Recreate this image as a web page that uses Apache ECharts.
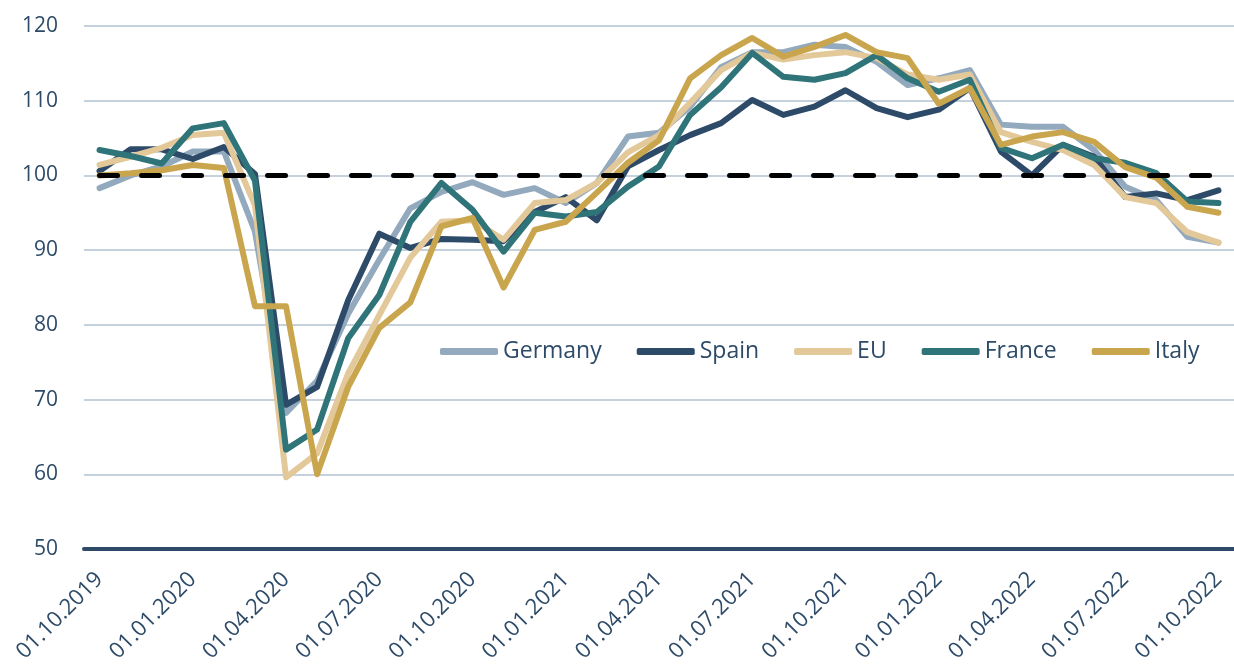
<!DOCTYPE html>
<html>
<head>
<meta charset="utf-8">
<title>Index</title>
<script src="https://cdn.jsdelivr.net/npm/echarts@6/dist/echarts.min.js"></script>
<style>
	html, body { margin: 0; padding: 0; background: #fff; }
	#echarts { width: 1234px; height: 671px; }
</style>
</head>
<body>
<div id="echarts"></div>
<script>
// months, one point each
var categories = [
	'01.10.2019', '01.11.2019', '01.12.2019',
	'01.01.2020', '01.02.2020', '01.03.2020', '01.04.2020', '01.05.2020', '01.06.2020',
	'01.07.2020', '01.08.2020', '01.09.2020', '01.10.2020', '01.11.2020', '01.12.2020',
	'01.01.2021', '01.02.2021', '01.03.2021', '01.04.2021', '01.05.2021', '01.06.2021',
	'01.07.2021', '01.08.2021', '01.09.2021', '01.10.2021', '01.11.2021', '01.12.2021',
	'01.01.2022', '01.02.2022', '01.03.2022', '01.04.2022', '01.05.2022', '01.06.2022',
	'01.07.2022', '01.08.2022', '01.09.2022', '01.10.2022'
]

var germany = [98.3, 100, 101.2, 103.2, 103.2, 92.5, 68.2, 72.5, 81.5, 88.7, 95.6, 97.8, 99.1, 97.4, 98.3, 96.3, 99, 105.2, 105.7, 109.2, 114.5, 116.5, 116.5, 117.5, 117.2, 115.2, 112.1, 113, 114.1, 106.8, 106.5, 106.5, 103.4, 98.5, 96.7, 91.8, 91]
var spain = [100.6, 103.5, 103.5, 102.2, 103.8, 100.2, 69.3, 71.7, 83.3, 92.2, 90.3, 91.5, 91.4, 91.2, 95.1, 97.1, 94, 101.2, 103.4, 105.4, 107, 110.1, 108.1, 109.2, 111.4, 109, 107.8, 108.8, 111.7, 103.2, 100, 104.1, 102.5, 97.1, 97.6, 96.7, 98]
var eu = [101.4, 102.5, 103.7, 105.4, 105.7, 96, 59.6, 62.8, 73.5, 81.3, 89, 93.8, 94, 91.4, 96.3, 96.7, 99, 103.1, 105.4, 109.7, 114.1, 116.4, 115.5, 116.1, 116.5, 115.7, 113.5, 112.8, 113.5, 105.8, 104.5, 103.4, 101.4, 97.1, 96.3, 92.4, 91]
var france = [103.4, 102.6, 101.6, 106.3, 107, 99.3, 63.3, 66, 78.2, 84, 93.8, 99, 95.4, 89.8, 95, 94.5, 95.1, 98.5, 101.2, 108.1, 111.8, 116.4, 113.2, 112.8, 113.7, 116.1, 113, 111.2, 112.8, 103.7, 102.3, 104.1, 102.3, 101.7, 100.3, 96.5, 96.3]
var italy = [100, 100.3, 100.7, 101.4, 101, 82.5, 82.5, 60, 71.7, 79.6, 83, 93.2, 94.3, 85, 92.7, 93.8, 97.7, 101.7, 104.7, 113, 116.1, 118.4, 115.9, 117.2, 118.8, 116.5, 115.7, 109.6, 111.7, 104.1, 105.2, 105.8, 104.5, 101.1, 99.7, 95.8, 95]

// reference level
var baseLevel = 100
var yTicks = [50, 60, 70, 80, 90, 100, 110, 120]

var names = ['Germany', 'Spain', 'EU', 'France', 'Italy']
var colors = ['#93A9BE', '#2D4B68', '#E3C89A', '#2E7478', '#C9A54D']
var values = [germany, spain, eu, france, italy]

window.onload = function () {
	var myChart = echarts.init(document.getElementById('echarts'))
	var textColor = '#2D4B68'
	var font = "'Open Sans', sans-serif"

	var series = []
	for (let i = 0; i < names.length; i++) {
		series.push({
			name: names[i],
			type: 'line',
			data: values[i],
			symbol: 'none',
			lineStyle: { color: colors[i], width: 6, cap: 'round', join: 'round' },
			itemStyle: { color: colors[i] },
			z: 2 + i
		})
	}
	// dashed 100 line on top
	series.push({
		name: 'base',
		type: 'line',
		data: categories.map(function () { return baseLevel }),
		symbol: 'none',
		silent: true,
		lineStyle: { color: '#000', width: 5, type: [18, 24], cap: 'round' },
		z: 10
	})

	var option = {
		animation: false,
		grid: { left: 84, top: 26, width: 1152, height: 523 },
		legend: {
			data: names,
			left: 435,
			top: 335,
			icon: 'roundRect',
			itemWidth: 58,
			itemHeight: 7,
			itemGap: 35,
			textStyle: { color: textColor, fontSize: 23, fontFamily: font }
		},
		xAxis: {
			type: 'category',
			data: categories,
			boundaryGap: true,
			axisLine: { lineStyle: { color: '#2D4B68', width: 4 } },
			axisTick: { show: false },
			axisLabel: {
				interval: 2,
				rotate: 45,
				margin: 27,
				color: textColor,
				fontSize: 22,
				fontFamily: font
			}
		},
		yAxis: {
			type: 'value',
			min: yTicks[0],
			max: yTicks[yTicks.length - 1],
			interval: 10,
			axisLine: { show: false },
			axisTick: { show: false },
			axisLabel: { margin: 26, color: textColor, fontSize: 21, fontFamily: font },
			splitLine: { lineStyle: { color: '#C5D1DD', width: 2 } }
		},
		series: series
	}

	myChart.setOption(option)
}
</script>
</body>
</html>
